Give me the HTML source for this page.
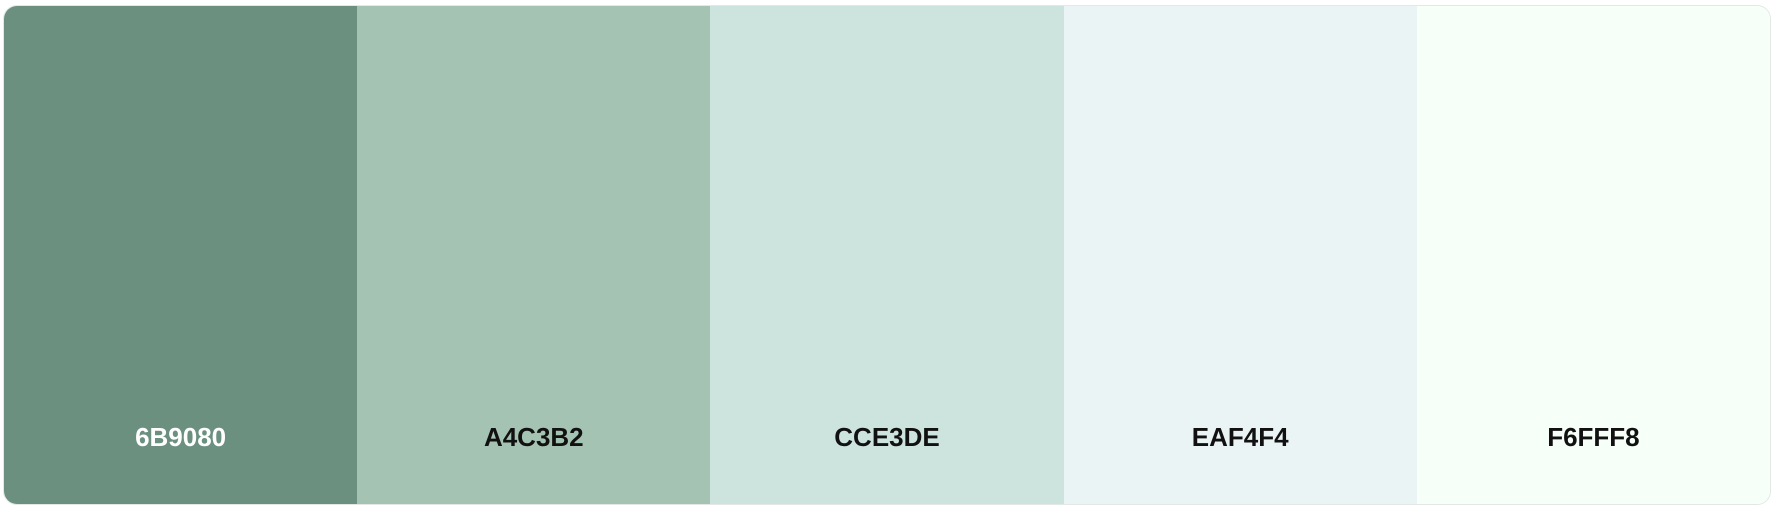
<!DOCTYPE html>
<html><head><style>
html,body{margin:0;padding:0;background:#fff;width:1774px;height:512px;overflow:hidden}
.pal{position:absolute;left:3px;top:5px;width:1766px;height:498px;border:1px solid #e3e8e6;border-radius:14px;overflow:hidden;display:flex}
.sw{flex:1;position:relative}
.sw span{position:absolute;left:0;right:0;top:416px;text-align:center;font-family:"Liberation Sans",sans-serif;font-weight:bold;font-size:26px;line-height:30px;color:#111}
</style></head><body>
<div class="pal">
<div class="sw" style="background:#6B9080"><span style="color:#fff">6B9080</span></div>
<div class="sw" style="background:#A4C3B2"><span>A4C3B2</span></div>
<div class="sw" style="background:#CCE3DE"><span>CCE3DE</span></div>
<div class="sw" style="background:#EAF4F4"><span>EAF4F4</span></div>
<div class="sw" style="background:#F6FFF8"><span>F6FFF8</span></div>
</div>
</body></html>
